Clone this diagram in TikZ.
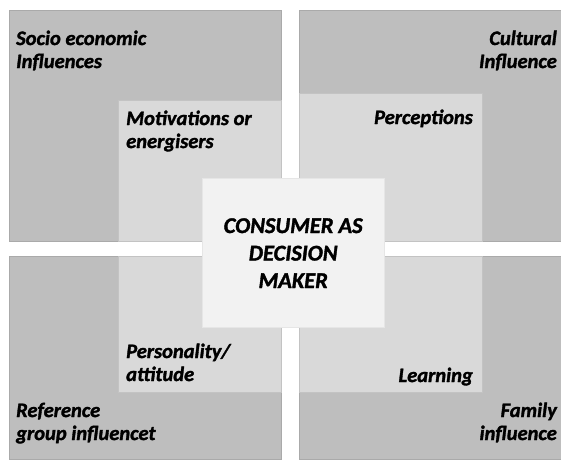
\documentclass[tikz,border=0pt]{standalone}
\usepackage{fontspec}
\setmainfont{Carlito}
\newfontface\heavy{Carlito Bold Italic}[FakeBold=1.6]
\usepackage{tikz}
\usetikzlibrary{positioning}
\definecolor{outergray}{RGB}{190,190,190}
\definecolor{innergray}{RGB}{217,217,217}
\definecolor{coregray}{RGB}{242,242,242}
\definecolor{edgegray}{RGB}{170,170,170}

\begin{document}
\begin{tikzpicture}[x=1pt, y=-1pt,
  outer/.style={rectangle, draw=edgegray, fill=outergray, line width=0.6pt,
                inner sep=0pt, anchor=north west},
  inner/.style={rectangle, draw=innergray!90!black, fill=innergray, line width=0.4pt,
                inner sep=0pt, anchor=north west},
  core/.style={rectangle, draw=coregray!95!black, fill=coregray, line width=0.4pt,
               inner sep=0pt, anchor=north west},
  lbl/.style={inner sep=0pt, font=\fontsize{20.5}{23}\heavy},
  big/.style={inner sep=0pt, align=center, font=\fontsize{22.5}{27.5}\heavy},
]
\useasboundingbox[fill=white] (0,0) rectangle (561,459);

% four outer influences
\node[outer, minimum width=272pt, minimum height=231pt] (socio)    at (9,10)    {};
\node[outer, minimum width=262pt, minimum height=231pt] (cultural) at (299,10)  {};
\node[outer, minimum width=272pt, minimum height=203pt] (refgroup) at (9,256)   {};
\node[outer, minimum width=262pt, minimum height=203pt] (family)   at (299,256) {};

% inner psychological factors
\node[inner, minimum width=163pt, minimum height=141pt] (motiv)  at (118,100) {};
\node[inner, minimum width=183pt, minimum height=148pt] (percep) at (299,93)  {};
\node[inner, minimum width=163pt, minimum height=136pt] (person) at (118,256) {};
\node[inner, minimum width=183pt, minimum height=136pt] (learn)  at (299,256) {};

% decision maker in the middle
\node[core, minimum width=182pt, minimum height=149pt] (consumer) at (202,178) {};

% labels sit on the baseline of their last line
\node[lbl, anchor=base west, align=left]  at (16,68)   {Socio economic\\Influences};
\node[lbl, anchor=base east, align=right] at (557,68)  {Cultural\\Influence};
\node[lbl, anchor=base west, align=left]  at (126,148) {Motivations or\\energisers};
\node[lbl, anchor=base east]              at (473,124) {Perceptions};
\node[lbl, anchor=base west, align=left]  at (126,381) {Personality/\\attitude};
\node[lbl, anchor=base east]              at (473,382) {Learning};
\node[lbl, anchor=base west, align=left]  at (16,440)  {Reference\\group influencet};
\node[lbl, anchor=base east, align=right] at (557,440) {Family\\influence};

\node[big, anchor=base] at (consumer.center |- 0,288) {CONSUMER AS\\DECISION\\MAKER};
\end{tikzpicture}
\end{document}
